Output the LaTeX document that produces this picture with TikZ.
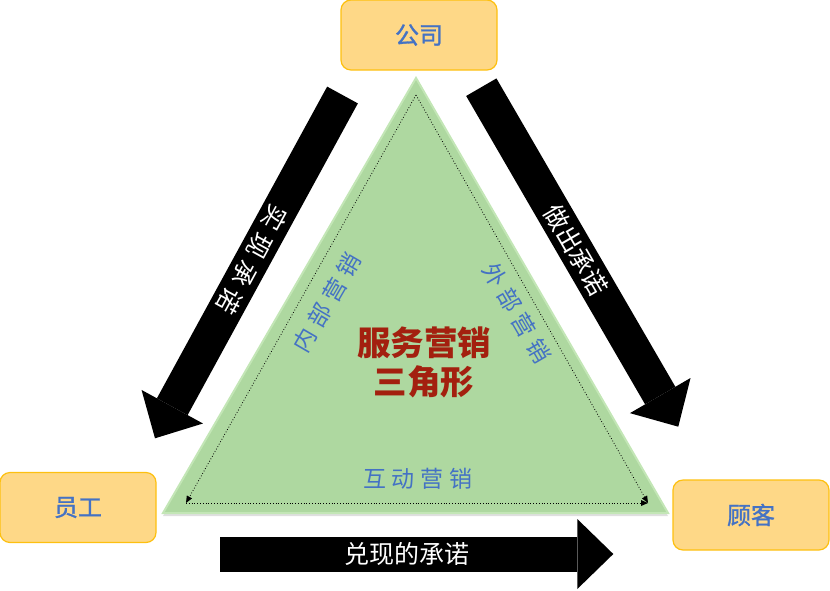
\documentclass[tikz,border=0pt]{standalone}
\usepackage{fontspec}
\setmainfont{Noto Sans CJK SC}
\newfontfamily\widecjk{Noto Sans CJK SC}[LetterSpace=26]
\newfontfamily\heavycjk{Noto Sans CJK SC}[FakeBold=1.2]
\usetikzlibrary{arrows.meta, shadows}
\definecolor{boxfill}{HTML}{FED887}
\definecolor{boxline}{HTML}{FDC010}
\definecolor{trifill}{HTML}{AED8A0}
\definecolor{triline}{HTML}{C3E6B6}
\definecolor{labelblue}{HTML}{4472C4}
\definecolor{titlered}{HTML}{A3200F}

\begin{document}
\begin{tikzpicture}[x=1pt, y=-1pt,
    party/.style={draw=boxline, fill=boxfill, line width=1.2pt, rounded corners=10pt,
        minimum width=156pt, minimum height=70pt, text=labelblue, font=\heavycjk\fontsize{24}{28}\selectfont},
    promise/.style={line width=35pt, black, -{Triangle[width=70pt, length=36pt, line width=0pt]}},
    promisetext/.style={text=white, font=\fontsize{25}{30}\selectfont},
    side/.style={text=labelblue, font=\widecjk\fontsize{23}{28}\selectfont},
    flow/.style={line width=0.8pt, dotted, black, -{Triangle[width=6pt, length=7pt, line width=0pt]}}]
            \useasboundingbox (0,0) rectangle (830,590);

            \coordinate (apex) at (416, 78);
            \coordinate (left) at (163, 513);
            \coordinate (right) at (668, 513);
            \coordinate (itop) at (416, 95);
            \coordinate (ileft) at (186, 503);
            \coordinate (iright) at (648, 503);

            \draw[draw=triline, fill=trifill, line width=2pt, line join=miter,
                drop shadow={opacity=0.25, shadow xshift=0pt, shadow yshift=-3pt}]
                (apex) -- (left) -- (right) -- cycle;

            \draw[flow] (itop) -- (ileft);
            \draw[flow] (ileft) -- (iright);
            \draw[flow] (itop) -- (iright);

            \node[party] (company)  at (419, 35)    {公司};
            \node[party] (staff)    at (78, 507.5)  {员工};
            \node[party] (customer) at (751, 515)   {顾客};

            \coordinate (ltail) at (342.5, 95);
            \coordinate (ltip)  at (155, 438.3);
            \coordinate (rtail) at (481.3, 87.2);
            \coordinate (rtip)  at (678.3, 426.7);
            \coordinate (btail) at (220, 554);
            \coordinate (btip)  at (613.3, 554);

            \draw[promise] (ltail) -- (ltip)
                node[promisetext, pos=0.48, sloped, allow upside down] (realize) {\widecjk 实现承诺};
            \draw[promise] (rtail) -- (rtip)
                node[promisetext, pos=0.48, sloped] (make) {做出承诺};
            \draw[promise] (btail) -- (btip)
                node[promisetext, pos=0.475] (keep) {兑现的承诺};

            \node[side, rotate=59.8]  (internal)    at (327, 303) {内部营销};
            \node[side, rotate=-59.8] (external)    at (517, 313) {外部营销};
            \node[side]               (interactive) at (418, 479) {互动营销};

            \node[text=titlered, align=center, font=\bfseries\fontsize{33.5}{39}\selectfont] (title)
                at (424, 362) {服务营销\\三角形};
        \end{tikzpicture}
\end{document}
